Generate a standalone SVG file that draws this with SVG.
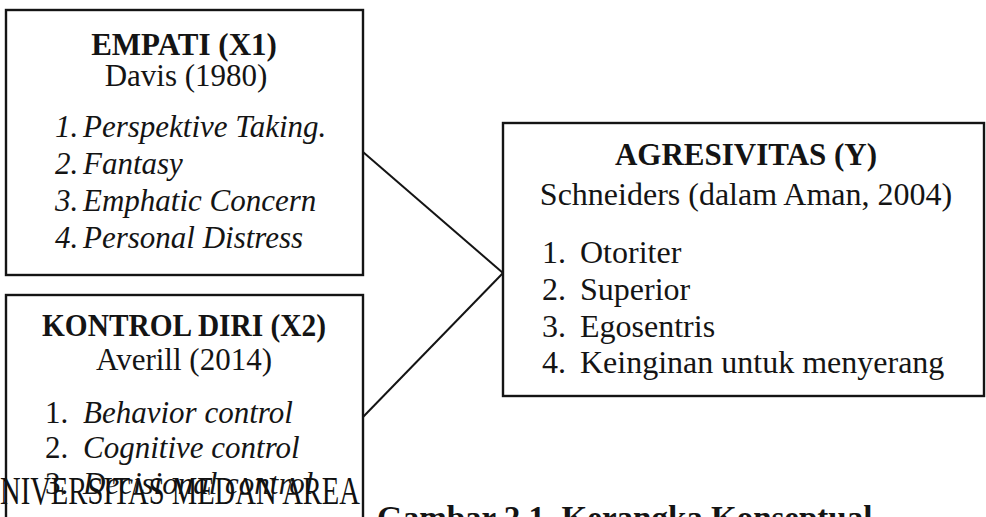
<svg xmlns="http://www.w3.org/2000/svg" width="986" height="517" viewBox="0 0 986 517">
<style>
text{font-family:"Liberation Serif","Times New Roman",serif;font-size:31px;fill:#141414}
.b{font-weight:bold}
.c{text-anchor:middle}
.i{font-style:italic}
.r{font-size:32px}
.box{fill:none;stroke:#141414;stroke-width:2.4}
.ln{fill:none;stroke:#141414;stroke-width:2}
.wm{font-size:40px;fill:#111}
.cap{font-weight:bold;font-size:33px}
</style>
<rect width="986" height="517" fill="#fff"/>
<g id="connectors">
<line class="ln" x1="363" y1="152" x2="503" y2="273"/>
<line class="ln" x1="363" y1="417" x2="503" y2="273"/>
</g>
<g id="empati">
<rect class="box" x="6" y="10" width="357" height="265"/>
<text class="b c" x="184" y="55">EMPATI (X1)</text>
<text class="c" x="186" y="86">Davis (1980)</text>
<text class="i" x="55" y="137">1.</text><text class="i" x="83" y="137">Perspektive Taking.</text>
<text class="i" x="55" y="174">2.</text><text class="i" x="83" y="174">Fantasy</text>
<text class="i" x="55" y="211">3.</text><text class="i" x="83" y="211">Emphatic Concern</text>
<text class="i" x="55" y="248">4.</text><text class="i" x="83" y="248">Personal Distress</text>
</g>
<g id="kontrol">
<rect class="box" x="6" y="295" width="357" height="260"/>
<text class="b c" x="184" y="336" textLength="284" lengthAdjust="spacingAndGlyphs">KONTROL DIRI (X2)</text>
<text class="c" x="184" y="370">Averill (2014)</text>
<text x="45" y="423">1.</text><text class="i" x="83" y="423">Behavior control</text>
<text x="45" y="458">2.</text><text class="i" x="83" y="458">Cognitive control</text>
<text x="45" y="494">3.</text><text class="i" x="83" y="494">Decisional control</text>
</g>
<g id="agresivitas">
<rect class="box" x="503" y="123" width="481" height="273"/>
<text class="b c" x="746" y="165">AGRESIVITAS (Y)</text>
<text class="c r" x="746" y="205">Schneiders (dalam Aman, 2004)</text>
<text class="r" x="542" y="263">1.</text><text class="r" x="580" y="263">Otoriter</text>
<text class="r" x="542" y="300">2.</text><text class="r" x="580" y="300">Superior</text>
<text class="r" x="542" y="337">3.</text><text class="r" x="580" y="337">Egosentris</text>
<text class="r" x="542" y="373">4.</text><text class="r" x="580" y="373">Keinginan untuk menyerang</text>
</g>
<text class="wm" x="0" y="504" textLength="360" lengthAdjust="spacingAndGlyphs">NIVERSITAS MEDAN AREA</text>
<text class="cap" x="377" y="529">Gambar 2.1. Kerangka Konseptual</text>
</svg>
